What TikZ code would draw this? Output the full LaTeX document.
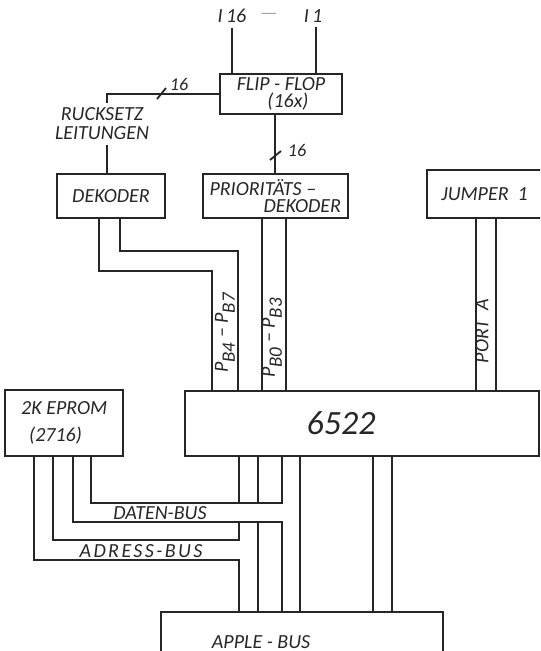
\documentclass[tikz,border=0pt]{standalone}
\usepackage{fontspec}
\setmainfont{Carlito}
\usepackage{tikz}
\usetikzlibrary{positioning}
\newcommand{\lo}[1]{\raisebox{-3.5pt}{\fontsize{9.5pt}{9.5pt}\selectfont #1}}

\begin{document}
\begin{tikzpicture}[x=0.5pt, y=-0.5pt, line width=0.9pt, color=black!85, font=\fontsize{10pt}{9pt}\selectfont\itshape]
  % ------- styles -------
  \tikzstyle{box}=[draw, inner sep=0pt, align=center]
  \tikzstyle{lbl}=[inner sep=2pt, align=center]
  \tikzstyle{num}=[lbl, font=\fontsize{9pt}{9pt}\selectfont\itshape]
  \tikzstyle{vlbl}=[lbl, rotate=90]

  % frame
  \useasboundingbox (0,0) rectangle (540,651);
  \clip (0,0) rectangle (540,651);

  % ------- nodes -------
  \node[box, minimum width=61pt, minimum height=20pt] (ff) at (281,94) {FLIP - FLOP\\[-0.5pt]\hspace*{7pt}(16x)};
  \node[lbl] (rst) at (102,124) {RUCKSETZ\\[0.5pt]LEITUNGEN};
  \node[box, minimum width=54pt, minimum height=22pt] (dek) at (111,196) {DEKODER};
  \node[box, right=18pt of dek, minimum width=72.5pt, minimum height=22pt, align=left] (prio) {PRIORITÄTS --\\[-0.5pt]\hspace*{27pt}DEKODER};
  \node[box, right=38.5pt of prio.south east, anchor=south west, minimum width=58pt, minimum height=24pt] (jmp) {JUMPER~~1};
  \node[box, minimum width=177pt, minimum height=32.5pt, font=\fontsize{17pt}{17pt}\selectfont\itshape] (via) at (362,423.5) {6522\hspace*{21pt}};
  \node[box, left=30pt of via.south west, anchor=south east, minimum width=59pt, minimum height=33pt, align=left] (eprom) {2K EPROM\\[4.5pt]\hspace*{4pt}(2716)};
  \node[box, minimum width=141pt, minimum height=30pt] (apple) at (302,642) {APPLE - BUS\hspace*{41pt}};

  % labels
  \node[lbl] (i16) at (232,16) {I\,16};
  \node[lbl] (i1) at (313,16) {I\,1};
  \node[lbl, text=black!35] (dots) at (269,16) {---};
  \node[num] (n16a) at (179,84) {16};
  \node[num] (n16b) at (297,150) {16};
  \node[vlbl] (pbhi) at (225,333) {P\lo{B4} -- P\lo{B7}};
  \node[vlbl] (pblo) at (272,338) {P\lo{B0} -- P\lo{B3}};
  \node[vlbl] (porta) at (482,331) {PORT~~A};
  \node[lbl] (dbus) at (160,513) {DATEN-BUS};
  \node[lbl] (abus) at (141,551) {\addfontfeature{LetterSpace=12}ADRESS-BUS};

  % ------- lines -------
  \draw (i16.south) -- (i16.south |- ff.north);
  \draw ([xshift=1.5pt]i1.south) -- ([xshift=1.5pt]i1.south |- ff.north);
  \draw (ff.west) -| ([xshift=2.5pt]rst.north);
  \draw ([xshift=2.5pt]rst.south) -- ([xshift=2.5pt]rst.south |- dek.north);
  \draw (prio.north |- ff.south) -- (prio.north);
  % 16-line marks
  \draw ([shift={(-22,15)}]n16a.center) -- ++(9,-11);
  \draw ([shift={(-27,10)}]n16b.center) -- ++(11,-9);

  % dekoder, prioritaets-dekoder, jumper -> 6522
  \draw ([xshift=4.5pt]dek.south) |- (238,251) -- (238,0 |- via.north);
  \draw ([xshift=-6pt]dek.south) |- (212,271) -- (212,0 |- via.north);
  \draw ([xshift=-6.75pt]prio.south) -- ([xshift=-6.75pt]prio.south |- via.north);
  \draw ([xshift=5.25pt]prio.south) -- ([xshift=5.25pt]prio.south |- via.north);
  \draw ([xshift=-4.5pt]jmp.south) -- ([xshift=-4.5pt]jmp.south |- via.north);
  \draw ([xshift=5.5pt]jmp.south) -- ([xshift=5.5pt]jmp.south |- via.north);

  % 6522 -> apple bus
  \draw (300,0 |- via.south) -- (300,0 |- apple.north);
  \draw (373,0 |- via.south) -- (373,0 |- apple.north);
  \draw (392,0 |- via.south) -- (392,0 |- apple.north);
  % adress-bus
  \draw (239,0 |- via.south) -- (239,503);
  \draw (258,0 |- via.south) -- (258,503);
  \draw (258,522) -- (258,0 |- apple.north);
  \draw (239,522) -- (239,540) -| ([xshift=-5.5pt]eprom.south);
  \draw ([xshift=-15pt]eprom.south) |- (239,560) -- (239,0 |- apple.north);
  % daten-bus
  \draw ([xshift=13.5pt]eprom.south) |- (282,503) -- (282,0 |- via.south);
  \draw ([xshift=4.5pt]eprom.south) |- (282,522) -- (282,0 |- apple.north);
\end{tikzpicture}
\end{document}
